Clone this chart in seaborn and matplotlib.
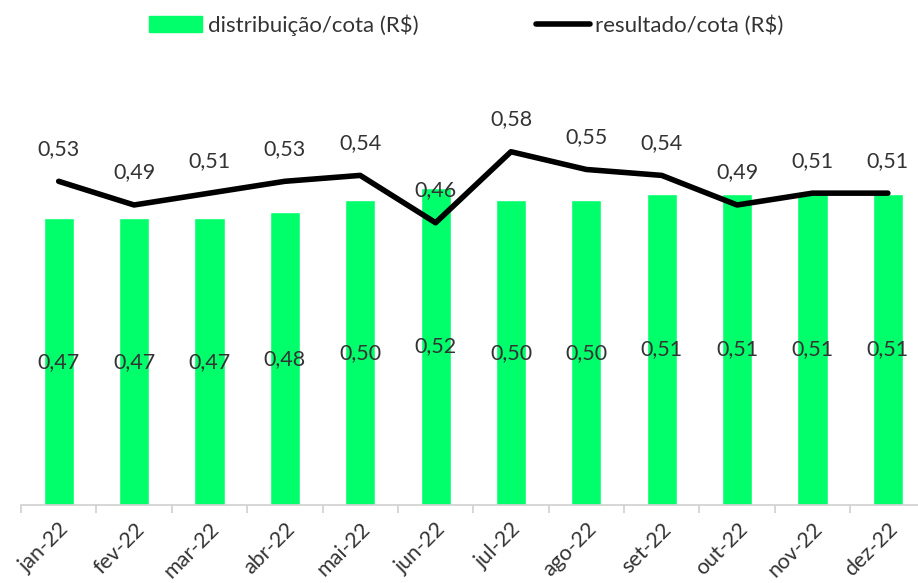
import matplotlib.pyplot as plt
import seaborn as sns
import pandas as pd
from matplotlib.patches import Patch
from matplotlib.lines import Line2D

# data
meses = ["jan-22", "fev-22", "mar-22", "abr-22", "mai-22", "jun-22",
         "jul-22", "ago-22", "set-22", "out-22", "nov-22", "dez-22"]
distribuicao = [0.47, 0.47, 0.47, 0.48, 0.50, 0.52, 0.50, 0.50, 0.51, 0.51, 0.51, 0.51]
resultado = [0.53, 0.49, 0.51, 0.53, 0.54, 0.46, 0.58, 0.55, 0.54, 0.49, 0.51, 0.51]

df = pd.DataFrame({"mes": meses, "distribuicao": distribuicao, "resultado": resultado})

sns.set_style("white")
plt.rcParams["font.family"] = ["Lato", "DejaVu Sans"]

verde = "#00ff6a"
cinza = "#333333"

fig = plt.figure(figsize=(9.18, 5.83), dpi=100)
ax = fig.add_axes([21 / 918, 78 / 583, 1 - 21 / 918, (505 - 60) / 583])

sns.barplot(data=df, x="mes", y="distribuicao", color=verde, width=0.4,
            saturation=1, ax=ax)
ax.set_ylim(0, 0.73)
ax.set_xlim(-0.5, 11.4)

# rotulos no meio das barras
for i, v in enumerate(distribuicao):
    ax.text(i, v / 2, f"{v:.2f}".replace(".", ","), ha="center", va="center",
            fontsize=15.5, color=cinza)

ax2 = ax.twinx()
sns.lineplot(x=list(range(len(meses))), y=resultado, color="black", linewidth=4,
             ax=ax2)
ax2.set_ylim(-0.017, 0.735)
for i, v in enumerate(resultado):
    ax2.text(i, v + 0.055, f"{v:.2f}".replace(".", ","), ha="center", va="center",
             fontsize=15.5, color=cinza)

for a in (ax, ax2):
    a.set_yticks([])
    a.set_ylabel("")
    for s in ["top", "right", "left"]:
        a.spines[s].set_visible(False)
ax2.spines["bottom"].set_visible(False)
ax.spines["bottom"].set_color("#d0d0d0")
ax.spines["bottom"].set_linewidth(1.2)
ax.set_xlabel("")

ax.set_xticks([i - 0.5 for i in range(12)], minor=True)
ax.tick_params(axis="x", which="minor", length=6, color="#d0d0d0", width=1.2, bottom=True)
ax.tick_params(axis="x", which="major", length=0, labelsize=15.5, labelcolor=cinza, pad=10)
plt.setp(ax.get_xticklabels(), rotation=45, ha="right", rotation_mode="anchor")

handles = [Patch(color=verde, label="distribuição/cota (R$)"),
           Line2D([0], [0], color="black", linewidth=4, label="resultado/cota (R$)")]
fig.legend(handles=handles, loc="upper center", bbox_to_anchor=(0.508, 1.01), ncol=2,
           frameon=False, fontsize=16, labelcolor=cinza, columnspacing=5.3,
           handlelength=2.4, handletextpad=0.25)

fig.savefig("out.png", dpi=100)
